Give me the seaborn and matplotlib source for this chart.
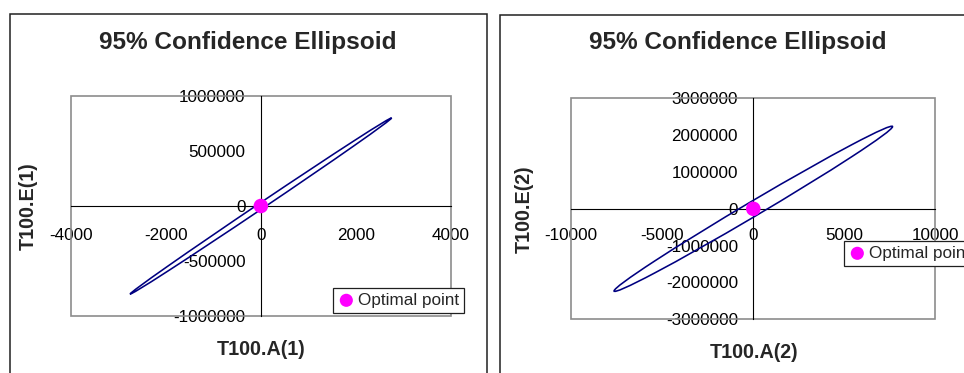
import matplotlib
matplotlib.use("Agg")
import matplotlib.pyplot as plt
import seaborn as sns
import pandas as pd
from matplotlib.patches import Circle, Rectangle
from matplotlib.transforms import Affine2D

# ---- data ----
titles = ["95% Confidence Ellipsoid", "95% Confidence Ellipsoid"]
x_labels = ["T100.A(1)", "T100.A(2)"]
y_labels = ["T100.E(1)", "T100.E(2)"]
x_ticks = [[-4000, -2000, 0, 2000, 4000], [-10000, -5000, 0, 5000, 10000]]
y_ticks = [[-1000000, -500000, 0, 500000, 1000000],
           [-3000000, -2000000, -1000000, 0, 1000000, 2000000, 3000000]]
# ellipse: centre, tip (x extreme) and y-axis intercept
ell_center_x = [0, 0]
ell_center_y = [0, 0]
ell_tip_x = [2750, 7650]
ell_tip_y = [800000, 2230000]
ell_y_intercept = [32000, 230000]
optimal_x = [0, 0]
optimal_y = [0, 0]
legend_label = "Optimal point"

sns.set_style("white")
plt.rcParams["font.family"] = ["Liberation Sans", "DejaVu Sans"]

W, H = 964, 373
fig = plt.figure(figsize=(W / 100, H / 100), dpi=100)

# panel borders (pixels: left, top, right)
panels = [(9.5, 13.5, 487.5), (500, 14.5, 1000)]
for (l, t, r) in panels:
    fig.patches.append(Rectangle((l / W, -0.1), (r - l) / W, 1 - t / H + 0.1,
                                 transform=fig.transFigure, fill=False,
                                 edgecolor="#202020", lw=1.1, zorder=0))

# plot areas (pixels: x0, y_top, x1, y_bottom)
areas = [(70.7, 96, 451, 316), (571.3, 98.3, 935.3, 319.3)]
legend_pos = [(333, 288), (844, 241)]
ylabel_x = [37.5, 534]
xlabel_top = [340, 343]
title_c = [(248, 42), (737.5, 43)]

for i in range(2):
    x0, yt, x1, yb = areas[i]
    ax = fig.add_axes([x0 / W, 1 - yb / H, (x1 - x0) / W, (yb - yt) / H])
    df = pd.DataFrame({"x": [optimal_x[i]], "y": [optimal_y[i]]})

    # ellipse as transformed unit circle
    M = Affine2D.from_values(ell_tip_x[i], ell_tip_y[i], 0, ell_y_intercept[i],
                             ell_center_x[i], ell_center_y[i])
    circ = Circle((0, 0), 1, fill=False, edgecolor="#000080", lw=1.15,
                  transform=M + ax.transData, zorder=3)
    ax.add_patch(circ)

    sns.scatterplot(data=df, x="x", y="y", ax=ax, color="#FF00FF", s=110,
                    edgecolor="none", label=legend_label, zorder=5, clip_on=False)

    ax.set_xlim(x_ticks[i][0], x_ticks[i][-1])
    ax.set_ylim(y_ticks[i][0], y_ticks[i][-1])
    ax.set_xticks(x_ticks[i])
    ax.set_yticks(y_ticks[i])
    ax.set_xticklabels([str(v) for v in x_ticks[i]])
    ax.set_yticklabels([str(v) for v in y_ticks[i]])

    for s in ["top", "right"]:
        ax.spines[s].set_visible(False)
    ax.spines["left"].set_position(("data", 0))
    ax.spines["bottom"].set_position(("data", 0))
    for s in ["left", "bottom"]:
        ax.spines[s].set_color("black")
        ax.spines[s].set_linewidth(0.8)
        ax.spines[s].set_zorder(2)
    ax.add_patch(Rectangle((0, 0), 1, 1, transform=ax.transAxes, fill=False,
                           edgecolor="#8c8c8c", lw=1.2, zorder=1, clip_on=False))

    ax.tick_params(axis="both", direction="out", length=3.5, width=0.8,
                   color="black", labelsize=12.3, labelcolor="black")
    ax.tick_params(axis="x", pad=12.5 if i == 0 else 10)
    ax.tick_params(axis="y", pad=7.5)

    ax.set_xlabel(x_labels[i], fontsize=14.2, fontweight="bold", va="top")
    ax.set_ylabel(y_labels[i], fontsize=14.2, fontweight="bold")
    ax.xaxis.set_label_coords(((x0 + x1) / 2 - x0) / (x1 - x0) + 0.002,
                              (yb - xlabel_top[i]) / (yb - yt))
    ax.yaxis.set_label_coords((ylabel_x[i] - x0) / (x1 - x0), 0.5)

    tx, ty = title_c[i]
    ax.text((tx - x0) / (x1 - x0), (yb - ty) / (yb - yt), titles[i],
            transform=ax.transAxes, ha="center", va="center",
            fontsize=17.6, fontweight="bold")

    lx, ly = legend_pos[i]
    leg = ax.legend(loc="upper left", bbox_to_anchor=(lx / W, 1 - ly / H),
                    bbox_transform=fig.transFigure, frameon=True, fancybox=False,
                    framealpha=1, edgecolor="#202020", fontsize=12.3,
                    borderpad=0.28, handletextpad=0.2, handlelength=1.0,
                    borderaxespad=0, markerscale=0.9)
    leg.get_frame().set_linewidth(0.9)
    leg.set_zorder(10)

fig.savefig("out.png", dpi=100, facecolor="white")
